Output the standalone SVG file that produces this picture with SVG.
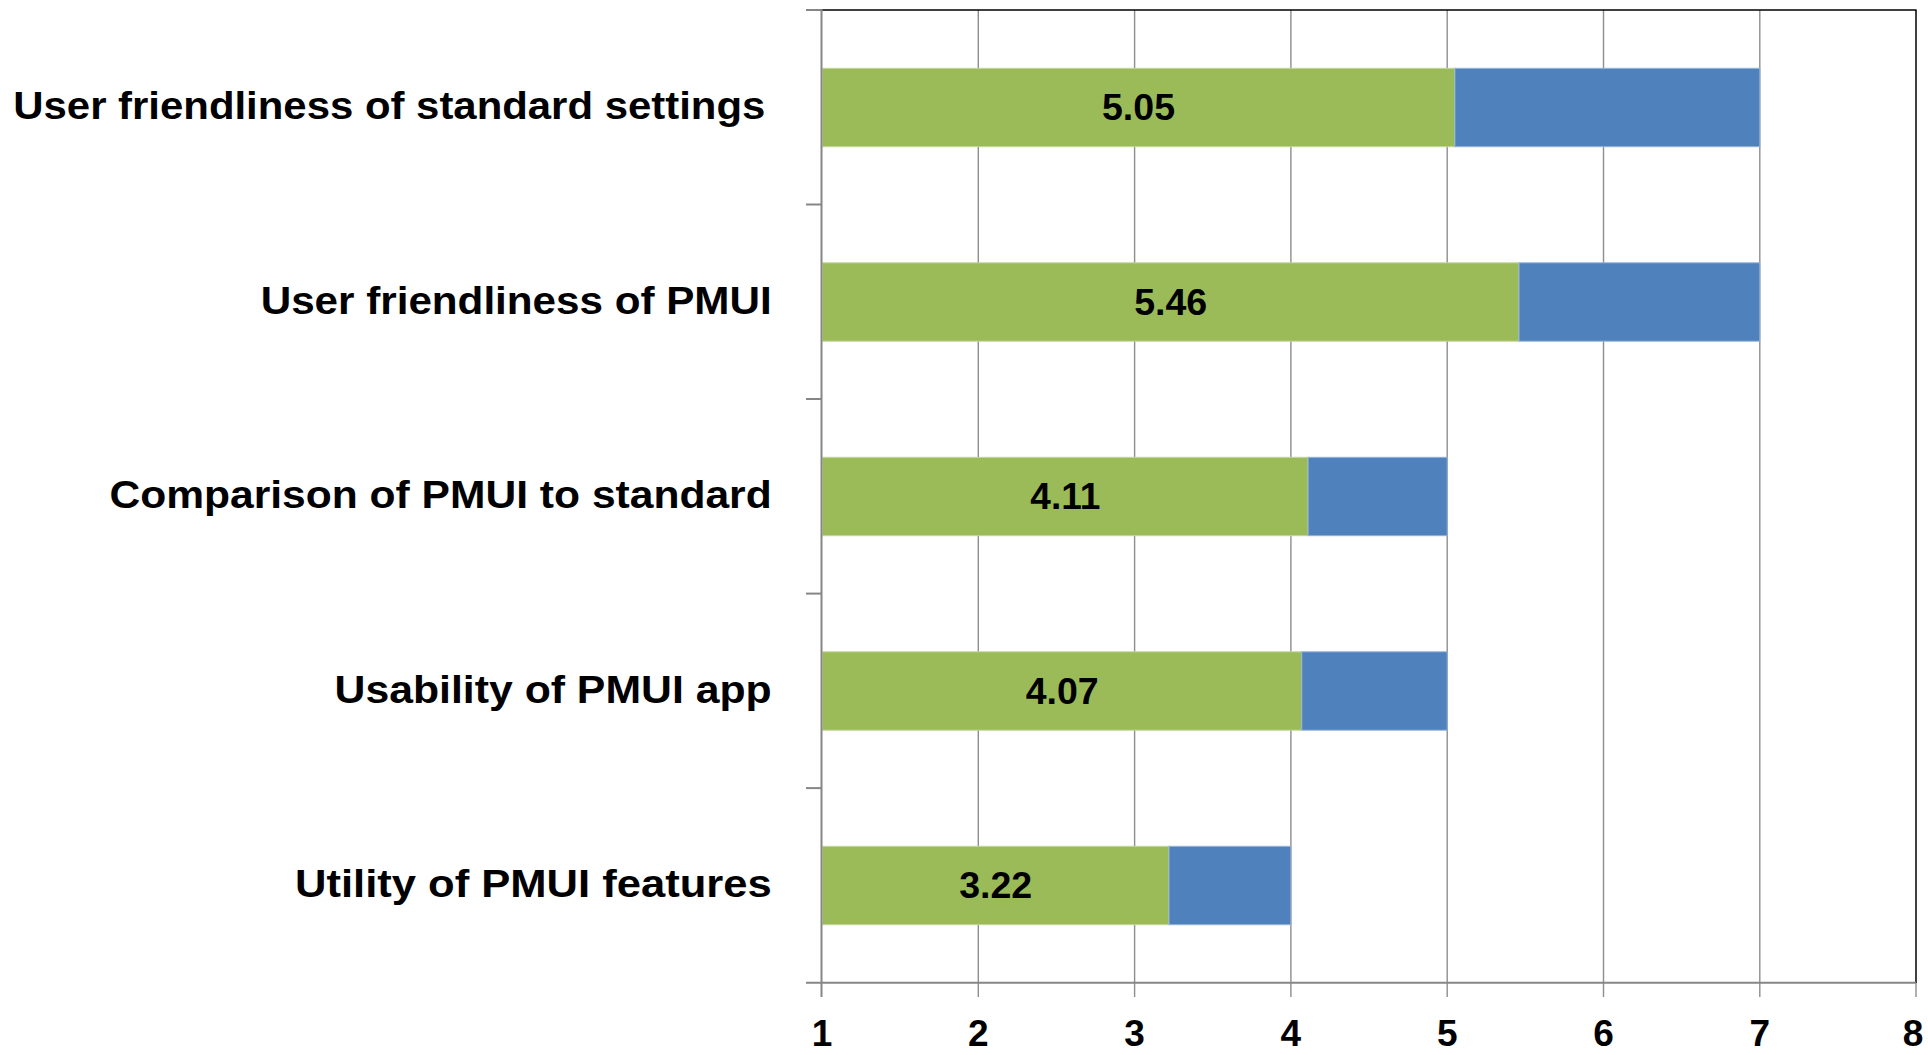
<svg xmlns="http://www.w3.org/2000/svg" width="1928" height="1055" viewBox="0 0 1928 1055">
  <style>
    .grid { stroke: #8e8e8e; stroke-width: 1.4; fill: none; }
    .axis { stroke: #868686; stroke-width: 2; fill: none; }
    .frame { stroke: #000000; stroke-width: 1.5; fill: none; }
    .mean { fill: #9bbb59; stroke: #c3d69b; stroke-width: 1; }
    .rest { fill: #4f81bd; stroke: #95b3d7; stroke-width: 1; }
    .cat { font-family: "Liberation Sans", Arial, sans-serif; font-weight: bold; font-size: 38px; fill: #000; text-anchor: start; }
    .val { font-family: "Liberation Sans", Arial, sans-serif; font-weight: bold; font-size: 36px; fill: #000; text-anchor: middle; }
    .tick { font-family: "Liberation Sans", Arial, sans-serif; font-weight: bold; font-size: 37px; fill: #000; text-anchor: middle; }
  </style>

  <rect x="0" y="0" width="1928" height="1055" fill="#ffffff"/>

  <!-- vertical gridlines at x = 2..7 -->
  <g id="gridlines">
    <line class="grid" x1="978.3" y1="10" x2="978.3" y2="997"/>
    <line class="grid" x1="1134.6" y1="10" x2="1134.6" y2="997"/>
    <line class="grid" x1="1290.9" y1="10" x2="1290.9" y2="997"/>
    <line class="grid" x1="1447.2" y1="10" x2="1447.2" y2="997"/>
    <line class="grid" x1="1603.5" y1="10" x2="1603.5" y2="997"/>
    <line class="grid" x1="1759.8" y1="10" x2="1759.8" y2="997"/>
    <line class="grid" x1="1916" y1="983" x2="1916" y2="997"/>
  </g>

  <!-- plot area frame (top and right) -->
  <g id="frame">
    <line class="frame" x1="822" y1="10" x2="1916.5" y2="10"/>
    <line class="frame" x1="1916" y1="10" x2="1916" y2="983"/>
  </g>

  <!-- stacked bars: green = mean score, blue = remainder of scale -->
  <g id="bar-standard-settings">
    <rect class="mean" x="822.5" y="68.3" width="632.4" height="78.4"/>
    <rect class="rest" x="1454.9" y="68.3" width="304.9" height="78.4"/>
    <text class="val" x="1138.5" y="120" textLength="73" lengthAdjust="spacingAndGlyphs">5.05</text>
  </g>
  <g id="bar-pmui-friendliness">
    <rect class="mean" x="822.5" y="262.8" width="696.5" height="78.4"/>
    <rect class="rest" x="1519" y="262.8" width="240.8" height="78.4"/>
    <text class="val" x="1170.7" y="314.5" textLength="73" lengthAdjust="spacingAndGlyphs">5.46</text>
  </g>
  <g id="bar-comparison">
    <rect class="mean" x="822.5" y="457.3" width="485.6" height="78.4"/>
    <rect class="rest" x="1308.1" y="457.3" width="139.1" height="78.4"/>
    <text class="val" x="1065.3" y="509" textLength="70" lengthAdjust="spacingAndGlyphs">4.11</text>
  </g>
  <g id="bar-usability">
    <rect class="mean" x="822.5" y="651.8" width="479.3" height="78.4"/>
    <rect class="rest" x="1301.8" y="651.8" width="145.4" height="78.4"/>
    <text class="val" x="1062.2" y="703.5" textLength="73" lengthAdjust="spacingAndGlyphs">4.07</text>
  </g>
  <g id="bar-utility">
    <rect class="mean" x="822.5" y="846.3" width="346.5" height="78.4"/>
    <rect class="rest" x="1169" y="846.3" width="121.9" height="78.4"/>
    <text class="val" x="995.7" y="898" textLength="73" lengthAdjust="spacingAndGlyphs">3.22</text>
  </g>

  <!-- axes with tick marks -->
  <g id="axes">
    <line class="axis" x1="821.5" y1="9" x2="821.5" y2="997"/>
    <line class="axis" x1="806" y1="982.7" x2="1916" y2="982.7"/>
    <line class="axis" x1="806" y1="10" x2="822" y2="10"/>
    <line class="axis" x1="806" y1="204.5" x2="822" y2="204.5"/>
    <line class="axis" x1="806" y1="399" x2="822" y2="399"/>
    <line class="axis" x1="806" y1="593.6" x2="822" y2="593.6"/>
    <line class="axis" x1="806" y1="788.1" x2="822" y2="788.1"/>
  </g>

  <!-- category labels -->
  <g id="category-labels">
    <text class="cat" x="13.3" y="119.3" textLength="752" lengthAdjust="spacingAndGlyphs">User friendliness of standard settings</text>
    <text class="cat" x="260.7" y="313.8" textLength="511" lengthAdjust="spacingAndGlyphs">User friendliness of PMUI</text>
    <text class="cat" x="109.4" y="508.3" textLength="662.3" lengthAdjust="spacingAndGlyphs">Comparison of PMUI to standard</text>
    <text class="cat" x="334.5" y="702.8" textLength="437.2" lengthAdjust="spacingAndGlyphs">Usability of PMUI app</text>
    <text class="cat" x="295" y="897.3" textLength="476.7" lengthAdjust="spacingAndGlyphs">Utility of PMUI features</text>
  </g>

  <!-- x-axis values -->
  <g id="x-axis-labels">
    <text class="tick" x="822" y="1046">1</text>
    <text class="tick" x="978.3" y="1046">2</text>
    <text class="tick" x="1134.6" y="1046">3</text>
    <text class="tick" x="1290.9" y="1046">4</text>
    <text class="tick" x="1447.2" y="1046">5</text>
    <text class="tick" x="1603.5" y="1046">6</text>
    <text class="tick" x="1759.8" y="1046">7</text>
    <text class="tick" x="1913" y="1046">8</text>
  </g>
</svg>
